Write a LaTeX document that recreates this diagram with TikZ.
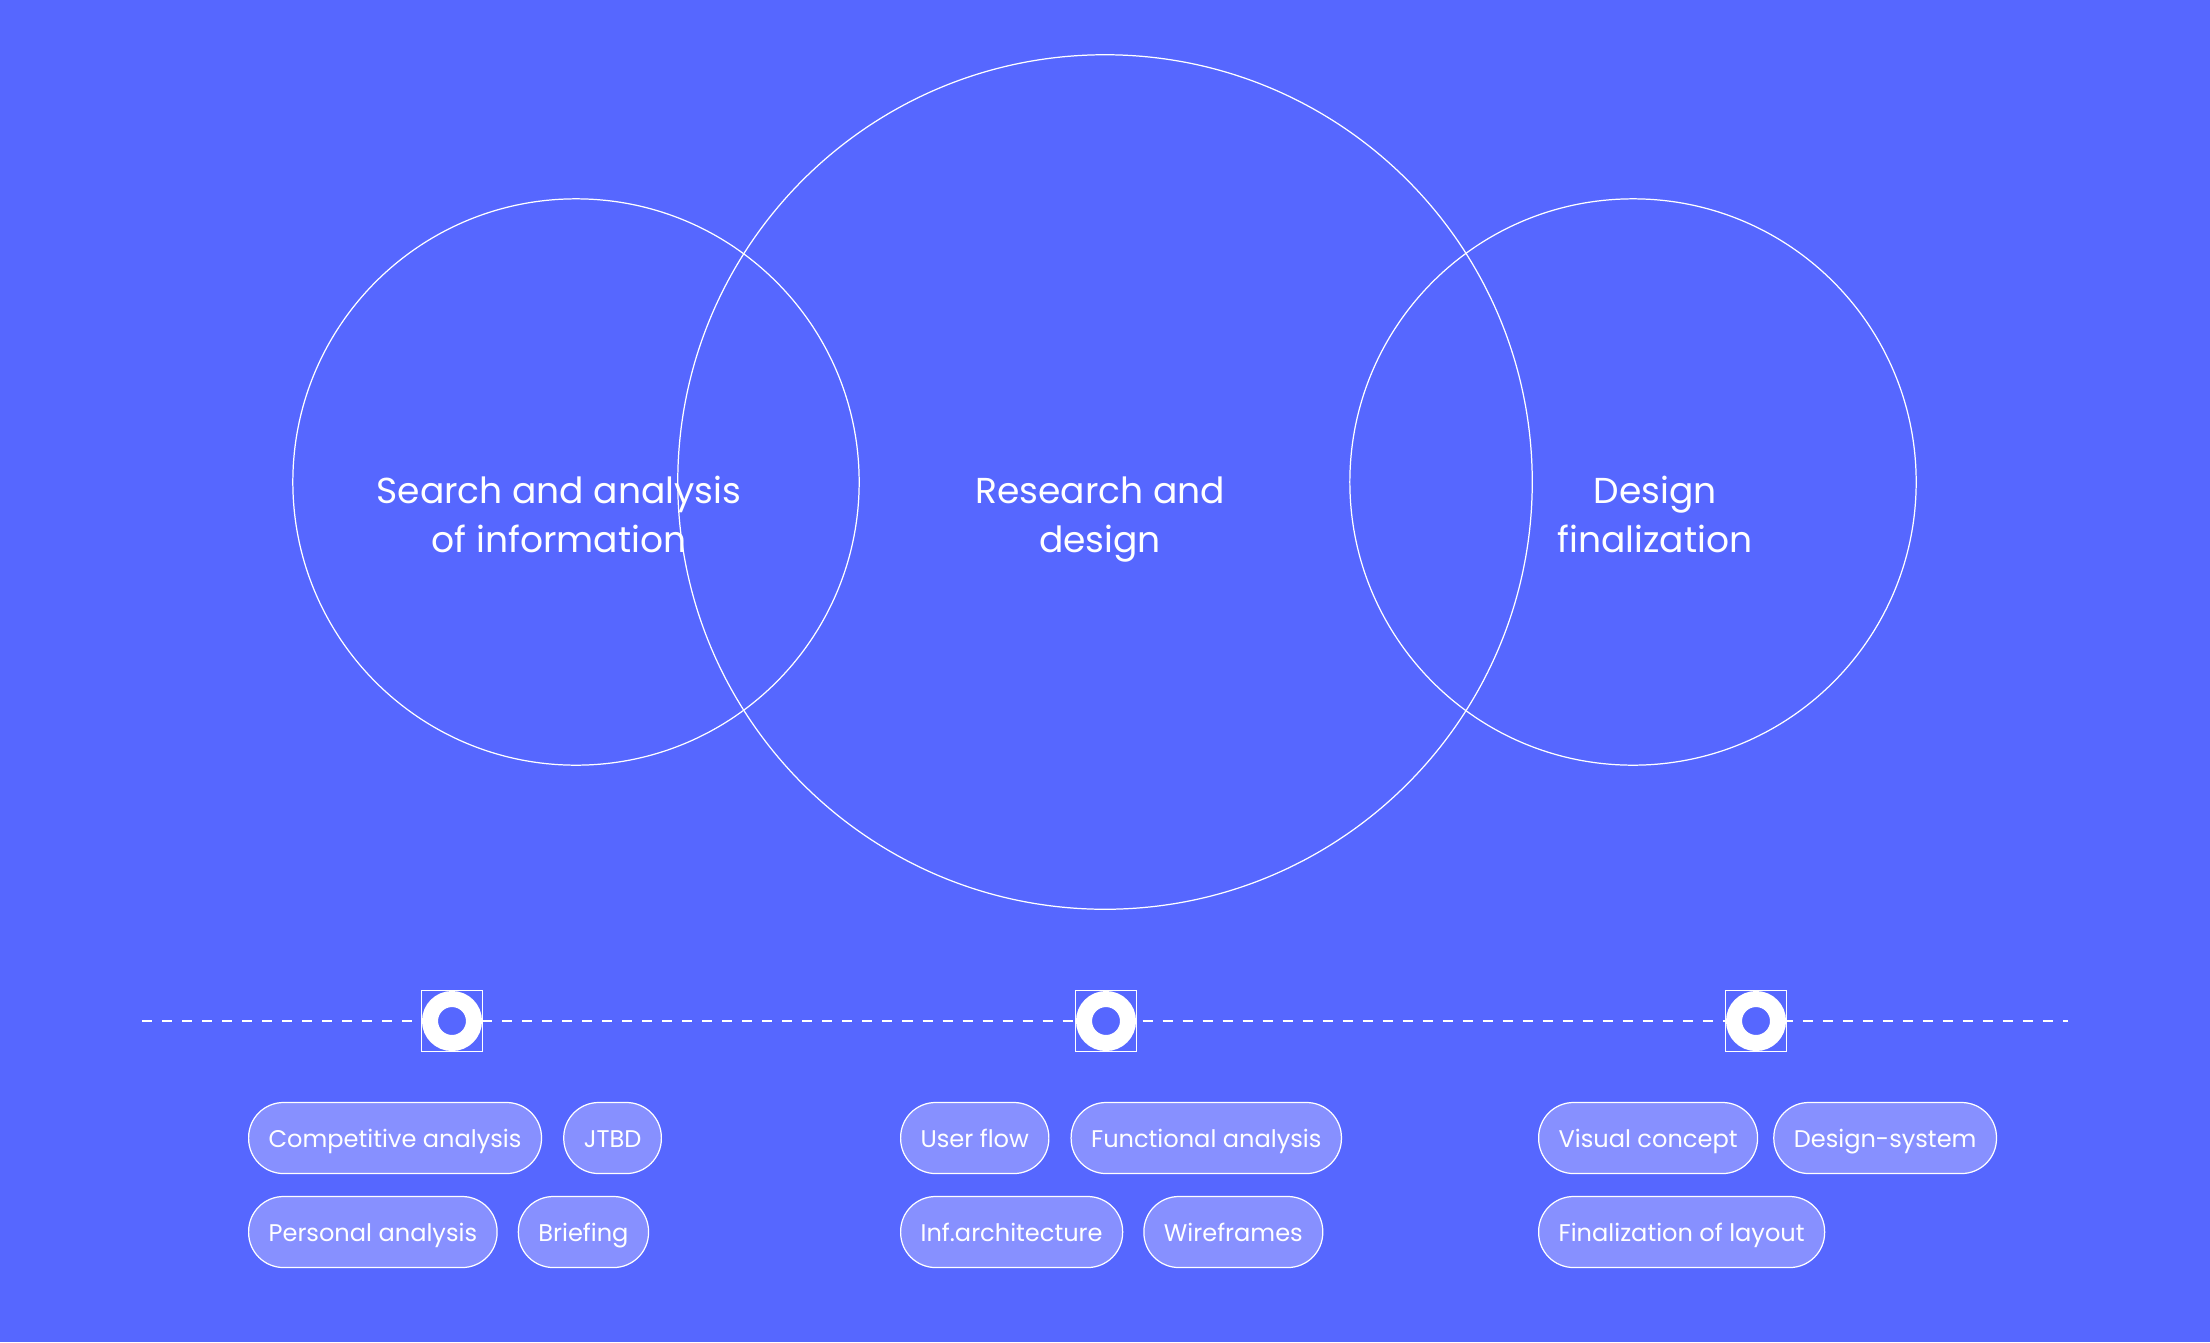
\documentclass[tikz,border=0pt]{standalone}
\usepackage{fontspec}
\setmainfont{Poppins}
\usetikzlibrary{positioning}
\definecolor{bgblue}{HTML}{5667FF}
\definecolor{tagblue}{HTML}{8790FF}

\tikzset{
  phase/.style={draw=white, line width=0.35pt},
  phasetext/.style={text=white, align=center, anchor=north, inner sep=0pt,
    font=\fontsize{10.25}{14}\selectfont},
  timeline/.style={draw=white, line width=0.02cm, dash pattern=on 0.1cm off 0.1cm},
  marker/.style={draw=white, fill=bgblue, line width=0.35pt, minimum size=0.61cm, inner sep=0pt},
  ring/.style={draw=white, line width=0.16cm},
  tag/.style={draw=white, line width=0.35pt, fill=tagblue, text=white,
    rounded corners=0.35cm, minimum height=0.71cm, inner xsep=0.2cm,
    text height=0.55em, text depth=0pt,
    font=\fontsize{6.85}{8}\selectfont, anchor=west},
}

\begin{document}
\begin{tikzpicture}[x=0.01cm, y=-0.01cm]
  \fill[bgblue] (0,0) rectangle (2210,1342);
  \useasboundingbox (0,0) rectangle (2210,1342);

  % three phases
  \draw[phase] (576,482) circle (2.83cm);
  \draw[phase] (1105,482) circle (4.27cm);
  \draw[phase] (1633,482) circle (2.83cm);
  \node[phasetext] (search) at (559,468) {\strut Search and analysis\\of information};
  \node[phasetext] (research) at (1100,468) {\strut Research and\\design};
  \node[phasetext] (final) at (1655,468) {\strut Design\\finalization};

  % timeline
  \coordinate (tstart) at (142,1021);
  \coordinate (tend) at (2068,1021);
  \draw[timeline] (tstart) -- (tend);
  \foreach \x/\n in {452/a, 1106/b, 1756/c} {
    \node[marker] (m\n) at (\x,1021) {};
    \draw[ring] (m\n.center) circle (0.22cm);
  }

  % tags
  \node[tag] (comp) at (248,1138) {Competitive analysis};
  \node[tag, right=0.21cm of comp] (jtbd) {JTBD};
  \node[tag] (pers) at (248,1232) {Personal analysis};
  \node[tag, right=0.2cm of pers] (brief) {Briefing};

  \node[tag] (flow) at (900,1138) {User flow};
  \node[tag, right=0.21cm of flow] (func) {Functional analysis};
  \node[tag] (arch) at (900,1232) {Inf.architecture};
  \node[tag, right=0.2cm of arch] (wire) {Wireframes};

  \node[tag] (visual) at (1538,1138) {Visual concept};
  \node[tag, right=0.15cm of visual] (dsys) {Design-system};
  \node[tag] (layout) at (1538,1232) {Finalization of layout};
\end{tikzpicture}
\end{document}
